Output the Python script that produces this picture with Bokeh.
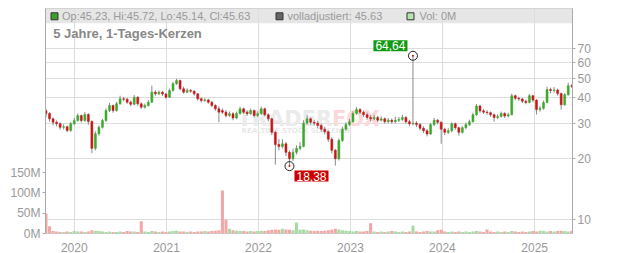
import math
import pandas as pd
from bokeh.plotting import figure
from bokeh.models import (Range1d, LinearAxis, LinearScale, FixedTicker, BoxAnnotation, Label,
                          ColumnDataSource, DatetimeTickFormatter, BasicTickFormatter)
from bokeh.embed import file_html
from bokeh.resources import INLINE

# ---------------- data (~2-week candles) ----------------
start_date = "2019-09-11"
n_points = 150

opens = [34.5, 33.5, 31.5, 30.3, 29.8, 28.6, 28.8, 27.6, 29.8, 30.9,
         32.7, 30.9, 33.1, 30.6, 22.5, 26.6, 28.6, 30.9, 34.6, 36.7,
         34.6, 37.4, 39.6, 39.4, 38.1, 37.2, 40.3, 37.4, 36.0, 36.7,
         38.1, 42.7, 41.9, 42.7, 41.8, 40.3, 43.5, 47.0, 48.8, 44.4,
         42.7, 43.5, 43.2, 41.9, 39.6, 38.8, 39.1, 38.1, 36.7, 35.3,
         34.6, 34.0, 32.7, 33.4, 31.8, 33.5, 35.3, 34.0, 33.4, 34.6,
         32.7, 33.4, 35.3, 33.0, 31.5, 27.0, 23.5, 23.0, 23.7, 21.5,
         20.0, 21.5, 22.5, 23.0, 30.0, 31.5, 30.3, 30.0, 29.2, 28.0,
         27.2, 25.0, 22.0, 20.0, 24.6, 28.0, 29.5, 30.5, 33.5, 35.0,
         34.0, 33.0, 32.0, 31.5, 32.0, 31.0, 31.5, 30.5, 31.0, 30.5,
         31.0, 31.3, 32.0, 30.5, 29.8, 30.0, 29.5, 28.3, 27.5, 26.5,
         29.5, 31.0, 30.3, 28.0, 27.0, 27.5, 29.8, 28.5, 27.0, 28.5,
         29.5, 30.5, 33.0, 36.5, 34.5, 34.0, 33.8, 33.0, 32.0, 32.4,
         33.5, 32.5, 33.0, 41.0, 39.8, 39.5, 38.5, 38.0, 41.0, 39.0,
         35.0, 35.5, 38.0, 44.0, 43.5, 43.8, 42.0, 37.0, 41.5, 46.0]

closes = [33.5, 31.5, 30.3, 29.8, 28.6, 28.8, 27.6, 29.8, 30.9, 32.7,
          30.9, 33.1, 30.6, 22.5, 26.6, 28.6, 30.9, 34.6, 36.7, 34.6,
          37.4, 39.6, 39.4, 38.1, 37.2, 40.3, 37.4, 36.0, 36.7, 38.1,
          42.7, 41.9, 42.7, 41.8, 40.3, 43.5, 47.0, 48.8, 44.4, 42.7,
          43.5, 43.2, 41.9, 39.6, 38.8, 39.1, 38.1, 36.7, 35.3, 34.0,
          34.0, 32.7, 33.4, 31.8, 33.5, 35.3, 34.0, 33.4, 34.6, 32.7,
          33.4, 35.3, 33.0, 31.5, 27.0, 23.5, 23.0, 23.7, 21.5, 20.0,
          21.5, 22.5, 23.0, 30.0, 31.5, 30.3, 30.0, 29.2, 28.0, 27.2,
          25.0, 22.0, 20.0, 24.6, 28.0, 29.5, 30.5, 33.5, 35.0, 34.0,
          33.0, 32.0, 31.5, 32.0, 31.0, 31.5, 30.5, 31.0, 30.5, 31.0,
          31.3, 32.0, 30.5, 29.8, 30.0, 29.5, 28.3, 27.5, 26.5, 29.5,
          31.0, 30.3, 28.0, 27.0, 27.5, 29.8, 28.5, 27.0, 28.5, 29.5,
          30.5, 33.0, 36.5, 34.5, 34.0, 33.8, 33.0, 32.0, 32.4, 33.5,
          32.5, 33.0, 41.0, 39.8, 39.5, 38.5, 38.0, 41.0, 39.0, 35.0,
          35.5, 38.0, 44.0, 43.5, 43.8, 42.0, 37.0, 41.5, 46.0, 45.63]

highs = [35.2, 34.0, 32.0, 31.0, 30.3, 29.6, 29.2, 30.4, 31.8, 33.5,
         33.0, 34.0, 33.6, 31.0, 27.3, 29.2, 31.5, 35.5, 37.8, 37.0,
         38.2, 41.0, 40.5, 40.0, 38.8, 41.3, 40.8, 38.0, 37.5, 39.0,
         46.0, 43.6, 43.5, 43.3, 42.3, 44.5, 48.0, 49.7, 49.2, 45.5,
         44.6, 44.3, 43.6, 42.2, 40.2, 39.9, 39.6, 38.5, 37.2, 36.3,
         35.5, 34.8, 34.3, 34.0, 34.2, 36.2, 35.8, 34.6, 35.4, 35.0,
         34.3, 36.2, 35.8, 33.6, 31.9, 27.5, 25.0, 25.0, 24.2, 22.0,
         22.4, 23.3, 24.2, 31.0, 32.8, 32.0, 31.2, 30.8, 29.8, 28.8,
         27.6, 25.5, 22.4, 25.2, 28.8, 30.3, 31.5, 34.3, 36.0, 35.6,
         34.6, 33.8, 32.8, 33.0, 32.6, 32.4, 32.0, 31.8, 31.6, 32.3,
         32.2, 33.0, 32.5, 31.2, 64.64, 30.6, 30.0, 28.9, 28.0, 30.0,
         31.8, 31.5, 30.6, 28.5, 28.3, 30.3, 30.2, 28.8, 29.0, 30.2,
         31.2, 33.8, 37.3, 37.0, 35.2, 34.8, 34.3, 33.5, 33.2, 34.2,
         34.0, 33.8, 42.0, 41.5, 40.6, 40.0, 39.2, 41.8, 41.4, 39.4,
         36.5, 38.8, 45.5, 45.0, 45.2, 44.5, 42.5, 42.3, 47.5, 46.8]

lows = [32.0, 30.5, 29.3, 28.9, 27.8, 27.9, 27.0, 27.2, 29.3, 30.5,
        30.2, 30.5, 29.5, 21.3, 22.0, 26.0, 28.2, 30.5, 34.0, 33.8,
        34.2, 37.0, 38.5, 37.4, 36.4, 36.8, 36.6, 35.3, 35.4, 36.2,
        37.8, 41.0, 41.3, 40.9, 39.6, 40.0, 43.0, 46.5, 43.6, 42.0,
        42.2, 42.4, 41.0, 38.8, 38.0, 38.3, 37.4, 36.0, 34.5, 30.3,
        33.3, 32.0, 32.2, 31.0, 31.4, 33.0, 33.3, 32.6, 33.0, 32.0,
        32.2, 33.0, 32.4, 30.6, 26.2, 18.7, 22.0, 22.5, 20.6, 18.38,
        19.5, 21.0, 22.0, 22.8, 29.5, 29.5, 29.2, 28.3, 27.2, 26.4,
        24.2, 21.2, 18.5, 19.6, 24.2, 27.5, 29.0, 30.2, 33.0, 33.3,
        32.2, 31.2, 30.6, 31.0, 30.3, 30.6, 29.8, 30.0, 29.8, 30.0,
        30.4, 30.8, 29.8, 29.0, 29.2, 28.7, 27.6, 26.8, 25.8, 26.2,
        29.0, 29.6, 23.7, 26.2, 26.5, 27.0, 27.8, 26.0, 26.6, 28.0,
        29.0, 30.2, 32.6, 33.8, 33.3, 33.0, 32.2, 30.5, 31.4, 32.0,
        31.8, 32.0, 32.8, 39.0, 38.7, 37.7, 37.2, 37.6, 38.2, 33.1,
        34.2, 35.0, 37.6, 42.2, 42.5, 41.0, 35.0, 36.5, 41.0, 44.8]

volume_m = [49, 18, 6, 5, 4, 4, 5, 4, 6, 5,
            5, 4, 5, 8, 7, 6, 5, 4, 5, 4,
            4, 5, 4, 6, 5, 5, 4, 30, 5, 4,
            6, 5, 4, 5, 4, 5, 6, 7, 5, 5,
            4, 5, 4, 5, 5, 6, 5, 6, 7, 8,
            106, 34, 12, 8, 7, 6, 6, 5, 6, 5,
            6, 7, 6, 8, 9, 10, 9, 12, 10, 9,
            8, 27, 9, 10, 8, 7, 6, 7, 6, 7,
            8, 9, 12, 10, 8, 7, 6, 5, 6, 5,
            5, 6, 25, 5, 4, 5, 4, 5, 6, 5,
            4, 5, 4, 5, 20, 5, 4, 5, 6, 5,
            5, 8, 9, 5, 4, 5, 4, 5, 4, 5,
            4, 5, 6, 5, 4, 10, 5, 4, 5, 4,
            5, 4, 6, 5, 4, 5, 4, 5, 6, 5,
            7, 6, 5, 6, 5, 6, 7, 6, 5, 6]

year_ticks = ["2020", "2021", "2022", "2023", "2024", "2025"]
price_ticks = [10, 20, 30, 40, 50, 60, 70]
volume_ticks = [0, 50, 100, 150]
volume_labels = ["0M", "50M", "100M", "150M"]

header_ohlc = "Op:45.23, Hi:45.72, Lo:45.14, Cl:45.63"
header_adj = "volladjustiert: 45.63"
header_vol = "Vol: 0M"
title_text = "5 Jahre, 1-Tages-Kerzen"

# ---------------- layout constants ----------------
X_START = pd.Timestamp("2019-09-09")
X_END = pd.Timestamp("2025-05-31")
Y_MIN, Y_MAX = 8.527, 110.8
VOL_MAX = 554
FL, FT, FW, FH = 45, 8, 527, 225  # frame left/top/width/height in px

GREEN = "#3ca82c"
RED = "#c41818"
VGREEN = "#a6dca0"
VRED = "#f2a6a6"
GRID = "#dddddd"
AXIS = "#aaaaaa"
TXT = "#999999"
FONT = "Liberation Sans"

x0_ms = X_START.value / 1e6
x1_ms = X_END.value / 1e6


def px_x(px):
    return x0_ms + (px - FL) / FW * (x1_ms - x0_ms)


def px_y(py):
    lo, hi = math.log10(Y_MIN), math.log10(Y_MAX)
    return 10 ** (lo + (FT + FH - py) / FH * (hi - lo))


dates = pd.date_range(start_date, periods=n_points, freq="14D")
DAY = 86400000

inc = [c >= o for o, c in zip(opens, closes)]
src = ColumnDataSource(dict(
    x=dates,
    o=opens, h=highs, l=lows, c=closes,
    top=[max(o, c) for o, c in zip(opens, closes)],
    bot=[min(o, c) for o, c in zip(opens, closes)],
    col=[GREEN if k else RED for k in inc],
    vcol=[VGREEN if k else VRED for k in inc],
    v=volume_m,
))

p = figure(x_axis_type="datetime", y_axis_type="log", y_axis_location="right",
           x_range=Range1d(X_START, X_END), y_range=Range1d(Y_MIN, Y_MAX),
           frame_width=FW, frame_height=FH,
           min_border_left=FL, min_border_right=632 - FL - FW, min_border_top=FT,
           min_border_bottom=253 - FT - FH,
           output_backend="svg", toolbar_location=None)
p.background_fill_color = "white"
p.border_fill_color = "white"
p.outline_line_color = "#cccccc"

p.extra_y_ranges = {"vol": Range1d(0, VOL_MAX)}
p.extra_y_scales = {"vol": LinearScale()}

# price axis (right)
ya = p.right[0]
ya.ticker = FixedTicker(ticks=price_ticks)
ya.formatter = BasicTickFormatter()
ya.axis_line_color = AXIS
ya.major_tick_line_color = AXIS
ya.major_tick_out = 3
ya.major_tick_in = 0
ya.minor_tick_line_color = None
ya.major_label_text_color = TXT
ya.major_label_text_font = FONT
ya.major_label_text_font_size = "12px"
ya.major_label_standoff = 2

# volume axis (left)
va = LinearAxis(y_range_name="vol", ticker=FixedTicker(ticks=volume_ticks),
                major_label_overrides={t: s for t, s in zip(volume_ticks, volume_labels)})
va.axis_line_color = AXIS
va.major_tick_line_color = AXIS
va.major_tick_out = 3
va.major_tick_in = 0
va.minor_tick_line_color = None
va.major_label_text_color = TXT
va.major_label_text_font = FONT
va.major_label_text_font_size = "12px"
va.major_label_standoff = 2
p.add_layout(va, "left")

# x axis
year_ms = [pd.Timestamp(f"{y}-01-01").value / 1e6 for y in year_ticks]
xa = p.below[0]
xa.ticker = FixedTicker(ticks=year_ms)
xa.formatter = DatetimeTickFormatter(years="%Y", months="%Y", days="%Y", hours="%Y",
                                     minutes="%Y", seconds="%Y", milliseconds="%Y")
xa.axis_line_color = None
xa.major_tick_line_color = None
xa.minor_tick_line_color = None
xa.major_label_text_color = TXT
xa.major_label_text_font = FONT
xa.major_label_text_font_size = "12px"
xa.major_label_standoff = 3

p.xgrid.ticker = FixedTicker(ticks=year_ms)
p.ygrid.ticker = FixedTicker(ticks=price_ticks)
p.xgrid.grid_line_color = GRID
p.ygrid.grid_line_color = GRID

# header band behind grid
band = BoxAnnotation(bottom=px_y(22.7), fill_color="#e6e6e6", fill_alpha=1.0,
                     line_color=None, level="underlay")
p.add_layout(band)
p.center = [band] + [r for r in p.center if r is not band]

# watermark
wm_y = px_y(118.5)
p.add_layout(Label(x=px_x(237), y=wm_y, text="TRADER", text_font="DejaVu Sans",
                   text_font_style="bold", text_font_size="21px", text_color="#ebebeb",
                   text_baseline="middle", level="underlay"))
p.add_layout(Label(x=px_x(331.5), y=wm_y, text="FOX", text_font="DejaVu Sans",
                   text_font_style="bold", text_font_size="21px", text_color="#fbd9d9",
                   text_baseline="middle", level="underlay"))
p.add_layout(Label(x=px_x(241), y=px_y(130.5), text="REALTIME STOCK SCREENER",
                   text_font="DejaVu Sans", text_font_style="bold", text_font_size="7px",
                   text_color="#e8e8e8", text_baseline="middle", level="underlay"))

# volume bars
p.vbar(x="x", width=12 * DAY, top="v", bottom=0, y_range_name="vol", source=src,
       fill_color="vcol", line_color=None)

# candles
p.segment(x0="x", y0="l", x1="x", y1="h", source=src, line_color="#8a8a8a", line_width=1)
p.vbar(x="x", width=8 * DAY, top="top", bottom="bot", source=src,
       fill_color="col", line_color="col", line_width=0.5)

# extremes
i_hi = highs.index(max(highs))
i_lo = lows.index(min(lows))
ext_x = [dates[i_hi], dates[i_lo]]
ext_y = [highs[i_hi], lows[i_lo]]
p.scatter(x=ext_x, y=ext_y, marker="circle", size=9, fill_color=None,
          line_color="#222222", line_width=1)
p.scatter(x=ext_x, y=ext_y, marker="circle", size=2, fill_color=RED, line_color=None)


def fmt(v):
    return f"{v:.2f}".replace(".", ",")


p.add_layout(Label(x=dates[i_hi].value / 1e6, y=highs[i_hi], text=fmt(highs[i_hi]),
                   x_offset=-5.5, y_offset=4.5, text_align="right", text_baseline="bottom",
                   text_color="white", text_font=FONT, text_font_size="12px",
                   background_fill_color="#119a11", padding=(2, 1)))
p.add_layout(Label(x=dates[i_lo].value / 1e6, y=lows[i_lo], text=fmt(lows[i_lo]),
                   x_offset=5, y_offset=-4.5, text_align="left", text_baseline="top",
                   text_color="white", text_font=FONT, text_font_size="12px",
                   background_fill_color="#cc0000", padding=(2, 1)))

# header legend
hy = px_y(15.8)
p.scatter(x=[px_x(54), px_x(279), px_x(410)], y=[hy, hy, hy], marker="square", size=7,
          fill_color=["#3aa02a", "#666666", "#b8e2b2"], line_color="#333333", line_width=1)
for xx, tt in [(61.5, header_ohlc), (287, header_adj), (419, header_vol)]:
    p.add_layout(Label(x=px_x(xx), y=hy, text=tt, text_font=FONT, text_font_size="11px",
                       text_color=TXT, text_baseline="middle"))
p.add_layout(Label(x=px_x(52.7), y=px_y(32.5), text=title_text, text_font=FONT,
                   text_font_size="13px", text_font_style="bold", text_color="#888888",
                   text_baseline="middle"))

open("out.html", "w").write(file_html(p, INLINE))
